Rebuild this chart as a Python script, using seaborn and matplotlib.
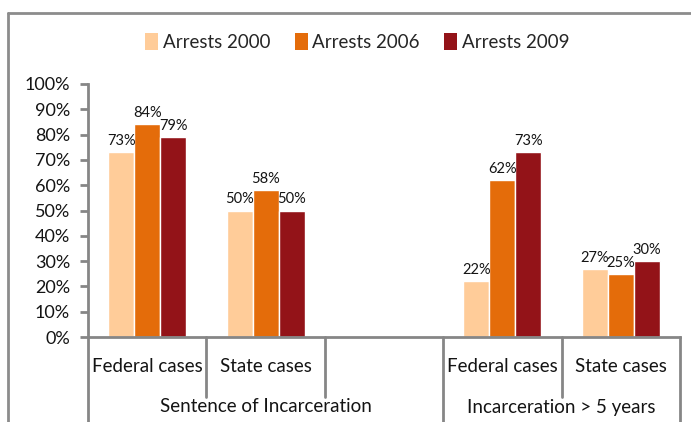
import matplotlib
matplotlib.use("Agg")
import matplotlib.pyplot as plt
import matplotlib.transforms as mtransforms
from matplotlib.lines import Line2D
from matplotlib.patches import Patch
import seaborn as sns
import pandas as pd

# ---- data ----
slot_keys = ["fed_sent", "state_sent", "blank", "fed_5y", "state_5y"]
slot_labels = ["Federal cases", "State cases", "", "Federal cases", "State cases"]
group_labels = ["Sentence of Incarceration", "Incarceration > 5 years"]
series = ["Arrests 2000", "Arrests 2006", "Arrests 2009"]
arrests_2000 = [73, 50, None, 22, 27]
arrests_2006 = [84, 58, None, 62, 25]
arrests_2009 = [79, 50, None, 73, 30]
colors = ["#FFCC99", "#E46C0A", "#931318"]
yticks = list(range(0, 101, 10))

rows = []
for name, vals in zip(series, [arrests_2000, arrests_2006, arrests_2009]):
    for k, v in zip(slot_keys, vals):
        if v is not None:
            rows.append({"slot": k, "series": name, "value": v})
df = pd.DataFrame(rows)

sns.set_style("white")
plt.rcParams["font.family"] = ["Lato", "DejaVu Sans"]
axis_gray = "#868686"
txt = "#141414"

fig = plt.figure(figsize=(6.91, 4.22), dpi=100)
ax = fig.add_axes([88 / 691, 1 - 337 / 422, (680 - 88) / 691, (337 - 84) / 422])

sns.barplot(data=df, x="slot", y="value", hue="series", order=slot_keys,
            hue_order=series, palette=colors, width=0.66, gap=0,
            saturation=1, legend=False, ax=ax, errorbar=None)

for cont in ax.containers:
    ax.bar_label(cont, labels=[f"{v:.0f}%" for v in cont.datavalues],
                 padding=3, fontsize=10.5, color=txt)

ax.set_xlim(-0.5, 4.5)
ax.set_ylim(0, 100)
ax.set_yticks(yticks)
ax.set_yticklabels([f"{t}%" for t in yticks], fontsize=13, color=txt)
ax.tick_params(axis="y", which="both", left=True, length=6, width=2,
               color=axis_gray, pad=7, direction="out")
ax.set_xticks([])
ax.set_xlabel("")
ax.set_ylabel("")
for s in ["top", "right"]:
    ax.spines[s].set_visible(False)
for s in ["left", "bottom"]:
    ax.spines[s].set_color(axis_gray)
    ax.spines[s].set_linewidth(2)

trans = mtransforms.blended_transform_factory(ax.transData, ax.transAxes)
minor_bottom = -(397 - 337) / 253
major_bottom = -(422 - 337) / 253
for i in range(6):
    x = i - 0.5
    y0 = major_bottom if i in (0, 3, 5) else minor_bottom
    ax.add_line(Line2D([x, x], [0, y0], transform=trans, color=axis_gray,
                       lw=2, clip_on=False))

for i, lab in enumerate(slot_labels):
    if lab:
        ax.text(i, -(366 - 337) / 253, lab, transform=trans, ha="center",
                va="center", fontsize=13.5, color=txt)
ax.text(1.0, -(407 - 337) / 253, group_labels[0], transform=trans,
        ha="center", va="center", fontsize=13.5, color=txt)
ax.text(3.5, -(407 - 337) / 253, group_labels[1], transform=trans,
        ha="center", va="center", fontsize=13.5, color=txt)

handles = [Patch(facecolor=c, edgecolor="none") for c in colors]
fig.legend(handles, series, loc="center", bbox_to_anchor=(0.517, 1 - 42 / 422),
           ncol=3, frameon=False, fontsize=13.5, handlelength=0.7,
           handleheight=1.0, handletextpad=0.25, columnspacing=1.3)

frame_color = "#8c8c8c"
fx = 8 / 691
fy = 1 - 13 / 422
fig.add_artist(Line2D([fx, 1], [fy, fy], transform=fig.transFigure,
                      color=frame_color, lw=2))
fig.add_artist(Line2D([fx, fx], [0, fy], transform=fig.transFigure,
                      color=frame_color, lw=2))

fig.savefig("out.png", dpi=100)
